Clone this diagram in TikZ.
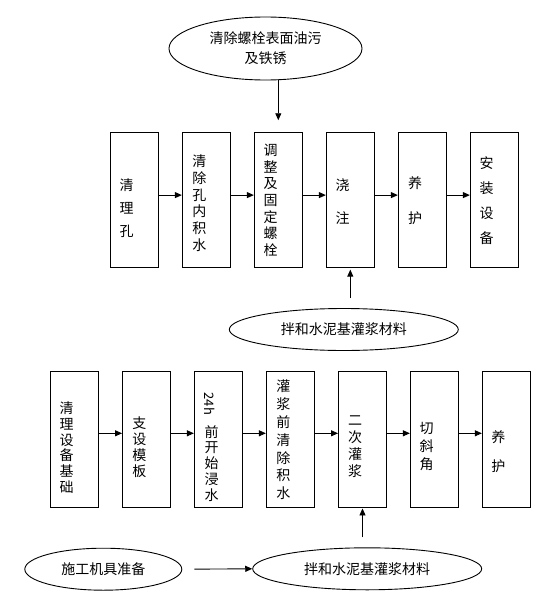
\documentclass[tikz,border=0pt]{standalone}
\usepackage{fontspec}
\usepackage{graphicx}
\setmainfont{Noto Sans CJK SC}
\usetikzlibrary{shapes.geometric,arrows.meta}
\tikzset{
  stepbox/.style={draw, line width=0.9pt, minimum width=48pt, inner sep=0pt},
  oval/.style={draw, ellipse, line width=0.9pt, inner sep=0pt, align=center,
    font=\fontsize{14}{20}\selectfont},
  arr/.style={line width=0.9pt, -{Triangle[length=7pt,width=6pt]}},
  vt/.style={align=center, inner sep=0pt, font=\fontsize{14}{#1}\selectfont},
}
\begin{document}
\begin{tikzpicture}[x=1pt,y=-1pt]
\path[fill=white,use as bounding box] (0,0) rectangle (552,602);

% top ellipse
\node[oval, minimum width=193pt, minimum height=63pt] (e1) at (265.5,48.5) {清除螺栓表面油污\\及铁锈};

% top row boxes
\foreach \i/\x in {1/134.7,2/206.3,3/278.3,4/350.3,5/422.3,6/494.3}
  \node[stepbox, minimum height=135pt] (a\i) at (\x,199.7) {};

\node[vt=23]   (ta1) at (126.7,208.5) {清\\理\\孔};
\node[vt=16.7] (ta2) at (199.3,203.3) {清\\除\\孔\\内\\积\\水};
\node[vt=16.6] (ta3) at (270.7,200.3) {调\\整\\及\\固\\定\\螺\\栓};
\node[vt=33.3] (ta4) at (342.7,201.7) {浇\\注};
\node[vt=35]   (ta5) at (415,200.8) {养\\护};
\node[vt=25]   (ta6) at (486.7,200.8) {安\\装\\设\\备};

\foreach \i/\j in {1/2,2/3,3/4,4/5,5/6}
  \draw[arr] ([yshift=4.6pt]a\i.east) -- ([yshift=4.6pt]a\j.west);

\draw[arr, shorten >=11.5pt] (a3.north |- e1.south) -- (a3.north);

% middle ellipse
\node[oval, minimum width=229pt, minimum height=42pt] (e2) at (343.8,329.5) {拌和水泥基灌浆材料};
\draw[arr, shorten <=10pt, shorten >=2pt] (a4.south |- e2.north) -- (a4.south);

% bottom row boxes
\foreach \i/\x in {1/74.5,2/146.5,3/218.3,4/290.3,5/362.5,6/434.3,7/506.3}
  \node[stepbox, minimum height=136pt] (b\i) at (\x,439) {};

\node[vt=15.7] (tb1) at (66.7,447.5) {清\\理\\设\\备\\基\\础};
\node[vt=16.1] (tb2) at (139.3,447.5) {支\\设\\模\\板};
\node[inner sep=0pt, rotate=-90, font=\fontsize{13}{15}\selectfont] (tb3a) at (210,403.8) {24h};
\node[vt=15.8] (tb3) at (211.5,463.3) {前\\开\\始\\浸\\水};
\node[vt=17.8] (tb4) at (283.3,440) {灌\\浆\\前\\清\\除\\积\\水};
\node[vt=16.7] (tb5) at (355,446.7) {二\\次\\灌\\浆};
\node[vt=18.3] (tb6) at (426.7,446.7) {切\\斜\\角};
\node[vt=28.7] (tb7) at (498.3,451.7) {养\\护};

\foreach \i/\j in {1/2,2/3,3/4,4/5,5/6,6/7}
  \draw[arr] ([yshift=5.7pt]b\i.east) -- ([yshift=5.7pt]b\j.west);

% bottom ellipses
\node[oval, minimum width=157pt, minimum height=42pt] (e3) at (103.3,569.2) {施工机具准备};
\node[oval, minimum width=229pt, minimum height=42pt] (e4) at (367.2,568.8) {拌和水泥基灌浆材料};
\draw[arr, shorten <=12.2pt] (e3.east) -- (e4.west);
\draw[arr, shorten <=10pt, shorten >=1pt] (b5.south |- e4.north) -- (b5.south);
\end{tikzpicture}
\end{document}
